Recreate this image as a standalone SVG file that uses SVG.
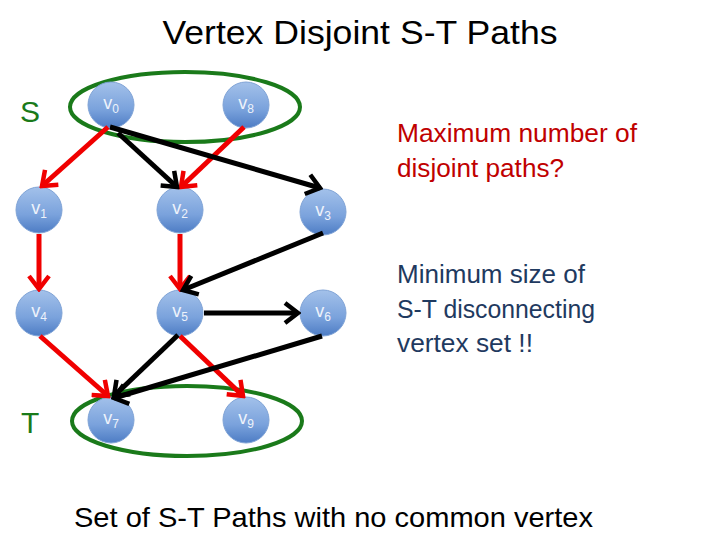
<svg xmlns="http://www.w3.org/2000/svg" width="720" height="540" viewBox="0 0 720 540">
<style>
.node circle{fill:url(#ng);stroke:#7fa3d6;stroke-width:1}
.node text{font-family:"Liberation Sans",Arial,sans-serif;font-size:18px;fill:#eef3fb;text-anchor:middle}
.node tspan.s{font-size:12px}
.red{stroke:#f00000;stroke-width:5;fill:none;marker-end:url(#ar)}
.blk{stroke:#000;stroke-width:5;fill:none;marker-end:url(#ab)}
.grp{fill:none;stroke:#1a7a1a;stroke-width:4}
.t{font-family:"Liberation Sans",Arial,sans-serif}
</style>
<defs>
<linearGradient id="ng" x1="0" y1="0" x2="0" y2="1">
<stop offset="0" stop-color="#a3c1ea"/>
<stop offset="0.6" stop-color="#7aa2dc"/>
<stop offset="1" stop-color="#4d7cc4"/>
</linearGradient>
<marker id="ar" viewBox="0 0 18 24" refX="15" refY="12" markerWidth="18" markerHeight="24" markerUnits="userSpaceOnUse" orient="auto">
<path d="M2,2 L15,12 L2,22" fill="none" stroke="#f00000" stroke-width="4.5"/>
</marker>
<marker id="ab" viewBox="0 0 18 24" refX="15" refY="12" markerWidth="18" markerHeight="24" markerUnits="userSpaceOnUse" orient="auto">
<path d="M2,2 L15,12 L2,22" fill="none" stroke="#000" stroke-width="4.5"/>
</marker>
</defs>
<rect width="720" height="540" fill="#fff"/>
<text class="t" x="360" y="44" font-size="33" text-anchor="middle" textLength="395" lengthAdjust="spacingAndGlyphs">Vertex Disjoint S-T Paths</text>
<text class="t" x="20" y="122" font-size="30" fill="#1a7a1a">S</text>
<text class="t" x="21" y="433" font-size="30" fill="#1a7a1a">T</text>
<g id="groups">
<ellipse class="grp" cx="185" cy="107" rx="115" ry="35"/>
<ellipse class="grp" cx="187" cy="421" rx="115" ry="35"/>
</g>
<g id="nodes">
<g id="v0" class="node"><circle cx="111" cy="105" r="23"/><text x="111" y="109">v<tspan class="s" dy="4">0</tspan></text></g>
<g id="v8" class="node"><circle cx="246" cy="105" r="23"/><text x="246" y="109">v<tspan class="s" dy="4">8</tspan></text></g>
<g id="v1" class="node"><circle cx="39" cy="210" r="23"/><text x="39" y="214">v<tspan class="s" dy="4">1</tspan></text></g>
<g id="v2" class="node"><circle cx="180" cy="210" r="23"/><text x="180" y="214">v<tspan class="s" dy="4">2</tspan></text></g>
<g id="v3" class="node"><circle cx="323" cy="212" r="23"/><text x="323" y="216">v<tspan class="s" dy="4">3</tspan></text></g>
<g id="v4" class="node"><circle cx="39" cy="313" r="23"/><text x="39" y="317">v<tspan class="s" dy="4">4</tspan></text></g>
<g id="v5" class="node"><circle cx="180" cy="313" r="23"/><text x="180" y="317">v<tspan class="s" dy="4">5</tspan></text></g>
<g id="v6" class="node"><circle cx="323" cy="313" r="23"/><text x="323" y="317">v<tspan class="s" dy="4">6</tspan></text></g>
<g id="v7" class="node"><circle cx="111" cy="420" r="23"/><text x="111" y="424">v<tspan class="s" dy="4">7</tspan></text></g>
<g id="v9" class="node"><circle cx="246" cy="420" r="23"/><text x="246" y="424">v<tspan class="s" dy="4">9</tspan></text></g>
</g>
<g id="connectors">
<line class="red" x1="108" y1="127" x2="42" y2="186"/>
<line class="red" x1="244" y1="127" x2="181" y2="187"/>
<line class="red" x1="39" y1="234" x2="39" y2="289"/>
<line class="red" x1="180" y1="234" x2="180" y2="289"/>
<line class="red" x1="40" y1="336" x2="108" y2="396"/>
<line class="red" x1="180" y1="336" x2="243" y2="396"/>
<line class="blk" x1="118" y1="133" x2="177" y2="187"/>
<line class="blk" x1="110" y1="127" x2="320" y2="188"/>
<line class="blk" x1="323" y1="233" x2="183" y2="290"/>
<line class="blk" x1="204" y1="313" x2="298" y2="313"/>
<line class="blk" x1="178" y1="335" x2="114" y2="396"/>
<line class="blk" x1="322" y1="336" x2="114" y2="398"/>
</g>
<g class="t" font-size="25" fill="#c00000">
<text x="397" y="142" textLength="240" lengthAdjust="spacingAndGlyphs">Maximum number of</text>
<text x="397" y="177" textLength="167" lengthAdjust="spacingAndGlyphs">disjoint paths?</text>
</g>
<g class="t" font-size="25" fill="#1f3a60">
<text x="397" y="283" textLength="188" lengthAdjust="spacingAndGlyphs">Minimum size of</text>
<text x="397" y="318" textLength="198" lengthAdjust="spacingAndGlyphs">S-T disconnecting</text>
<text x="397" y="352" textLength="136" lengthAdjust="spacingAndGlyphs">vertex set !!</text>
</g>
<text class="t" x="74" y="527" font-size="28" textLength="519" lengthAdjust="spacingAndGlyphs">Set of S-T Paths with no common vertex</text>
</svg>
